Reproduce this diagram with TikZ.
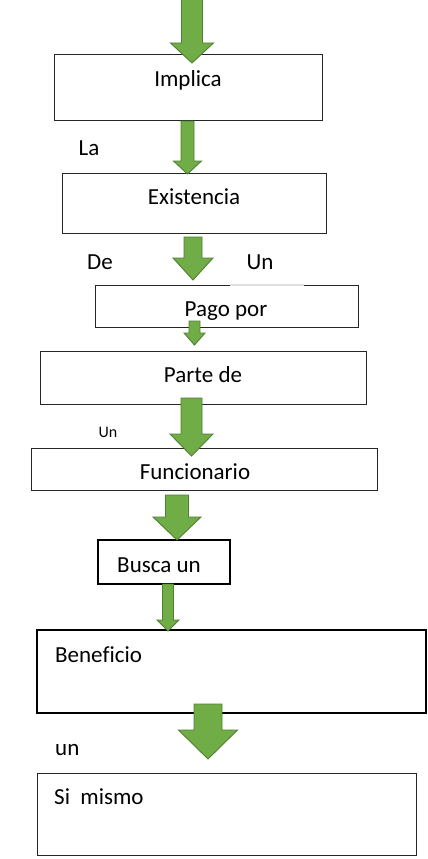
\documentclass[tikz,border=0pt]{standalone}
\usepackage{fontspec}
\setmainfont[Ligatures=NoCommon]{Carlito}
\definecolor{arrowgreen}{HTML}{70AD47}
\definecolor{arrowedge}{HTML}{507E32}
\tikzset{
  box/.style={draw=black!85, line width=0.9pt, inner sep=0pt},
  thickbox/.style={box, draw=black, line width=1.7pt},
  word/.style={anchor=base, inner sep=0pt, font=\fontsize{23}{27}\selectfont},
  leftword/.style={word, anchor=base west},
  smallword/.style={word, font=\fontsize{16}{19}\selectfont},
  greenarrow/.style={fill=arrowgreen, draw=arrowedge, line width=0.9pt, line join=miter}
}
% x, half shaft, half head, top, neck, tip
\newcommand{\blockarrow}[6]{%
  \draw[greenarrow] (#1-#2,#4) -- (#1+#2,#4) -- (#1+#2,#5) -- (#1+#3,#5)
    -- (#1,#6) -- (#1-#3,#5) -- (#1-#2,#5) -- cycle;}

\begin{document}
\begin{tikzpicture}[x=1pt, y=-1pt]
  \useasboundingbox (0,0) rectangle (428,859);

  % boxes
  \node [box, minimum width=268pt, minimum height=66pt](implica) at (188,87) {};
  \node [box, minimum width=264pt, minimum height=60pt](existencia) at (194,203) {};
  \node [box, minimum width=263pt, minimum height=42pt](pago) at (226.5,306) {};
  \node [box, minimum width=326pt, minimum height=53pt](parte) at (203,377.5) {};
  \node [box, minimum width=346pt, minimum height=42pt](funcionario) at (204,469) {};
  \node [thickbox, minimum width=132pt, minimum height=44pt](busca) at (164,562) {};
  \node [thickbox, minimum width=389pt, minimum height=83pt](beneficio) at (231.5,671.5) {};
  \node [box, minimum width=379pt, minimum height=82pt](mismo) at (226.5,814) {};
  \draw [black!12, line width=1.2pt] (230,285) -- (304,285);

  % words
  \node [word](implicatext) at (188,86) {Implica};
  \node [word](la) at (89,155) {La};
  \node [word](existenciatext) at (194,204) {Existencia};
  \node [word](de) at (100,269) {De};
  \node [word](un) at (260,269) {Un};
  \node [word](pagotext) at (226,316) {Pago por};
  \node [word](partetext) at (203,382) {Parte de};
  \node [smallword](unsmall) at (108,437) {Un};
  \node [word](funcionariotext) at (195,479) {Funcionario};
  \node [word](buscatext) at (159,572) {Busca un};
  \node [leftword](beneficiotext) at (55,662) {Beneficio};
  \node [leftword](unlow) at (55,755) {un};
  \node [leftword](mismotext) at (54,804) {Si~ mismo};

  % green arrows
  \blockarrow{192}{10.5}{21.5}{-2}{43}{63}
  \blockarrow{187.5}{6.5}{14}{121}{161}{174}
  \blockarrow{193}{9}{20}{237}{258}{280}
  \blockarrow{194.5}{5.5}{10.5}{321}{333}{345}
  \blockarrow{191.5}{10.5}{21.5}{398}{434}{456}
  \blockarrow{177}{11.5}{24}{495}{517}{540}
  \blockarrow{168}{5.5}{11}{584}{620}{631}
  \blockarrow{208}{14}{29.5}{704}{730}{759}
\end{tikzpicture}
\end{document}
